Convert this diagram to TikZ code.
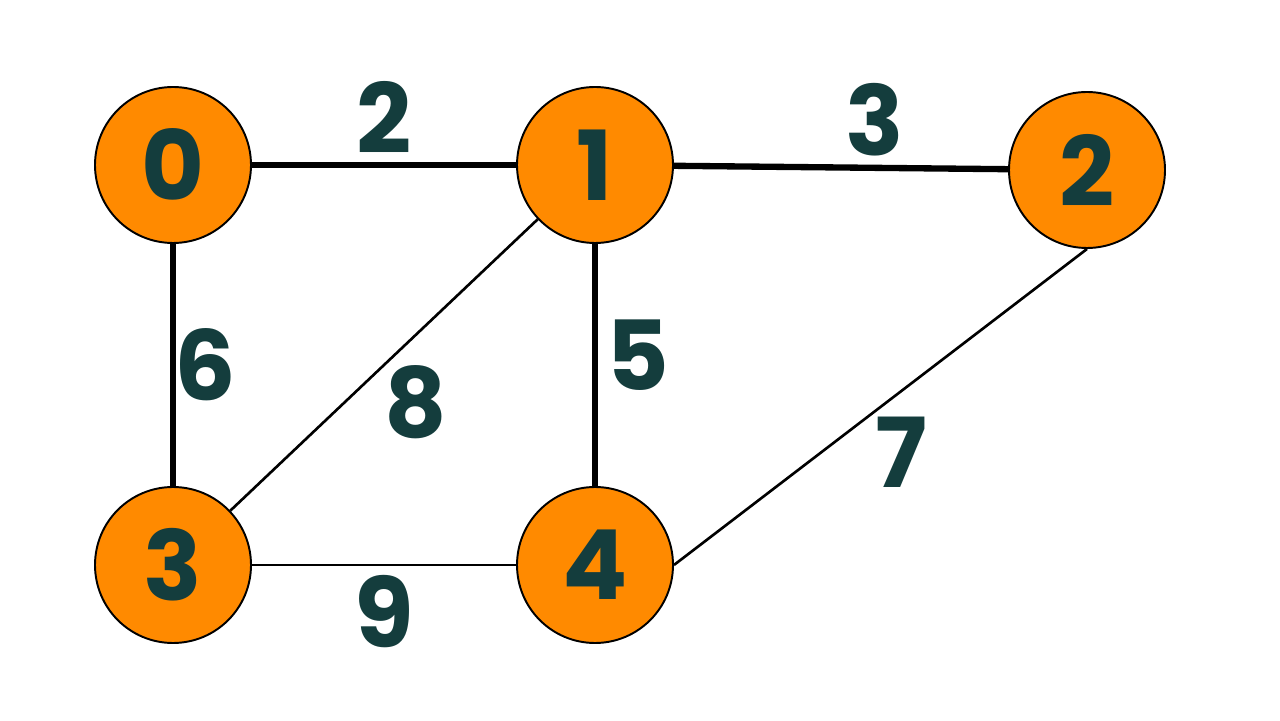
\documentclass[tikz,border=0pt]{standalone}
\usepackage{fontspec}
\setmainfont{Poppins}
\usepackage{tikz}
\usetikzlibrary{arrows.meta}
\definecolor{digit}{HTML}{143D3D}
\definecolor{vfill}{HTML}{FF8A00}

\begin{document}
\begin{tikzpicture}[node distance={84.4mm},
        vert/.style = {draw, circle, fill=vfill, line width=1.1pt, minimum size=31.2mm, inner sep=0pt,
            text=digit, font=\bfseries\fontsize{55}{60}\selectfont},
        wt/.style = {text=digit, inner sep=5pt, font=\bfseries\fontsize{55}{60}\selectfont},
        heavy/.style = {line width=3.6pt},
        light/.style = {line width=1.5pt}]
            \useasboundingbox (0,0) rectangle (25.6,14.4);
            \node[vert] (v0) at (3.46,11.1) {0};
            \node[vert] (v1) [right of=v0] {1};
            \node[vert] (v2) [right of=v1, xshift=14mm, yshift=-1mm] {2};
            \node[vert] (v3) [below of=v0, node distance=80mm] {3};
            \node[vert] (v4) [right of=v3] {4};

            \path[heavy] (v0) edge node[wt, above] {2} (v1);
            \path[heavy] (v1) edge node[wt, above, pos=0.6] {3} (v2);
            \path[heavy] (v0) edge node[wt, right, xshift=-2mm] {6} (v3);
            \path[heavy] (v1) edge node[wt, right, yshift=2mm] {5} (v4);
            \path[light] (v1) edge node[wt, below right, xshift=-2mm, yshift=2mm] {8} (v3);
            \path[light] (v3) edge node[wt, below] {9} (v4);
            \path[light] (v2.south) edge node[wt, below right, xshift=-3mm] {7} (v4.east);
        \end{tikzpicture}
\end{document}
